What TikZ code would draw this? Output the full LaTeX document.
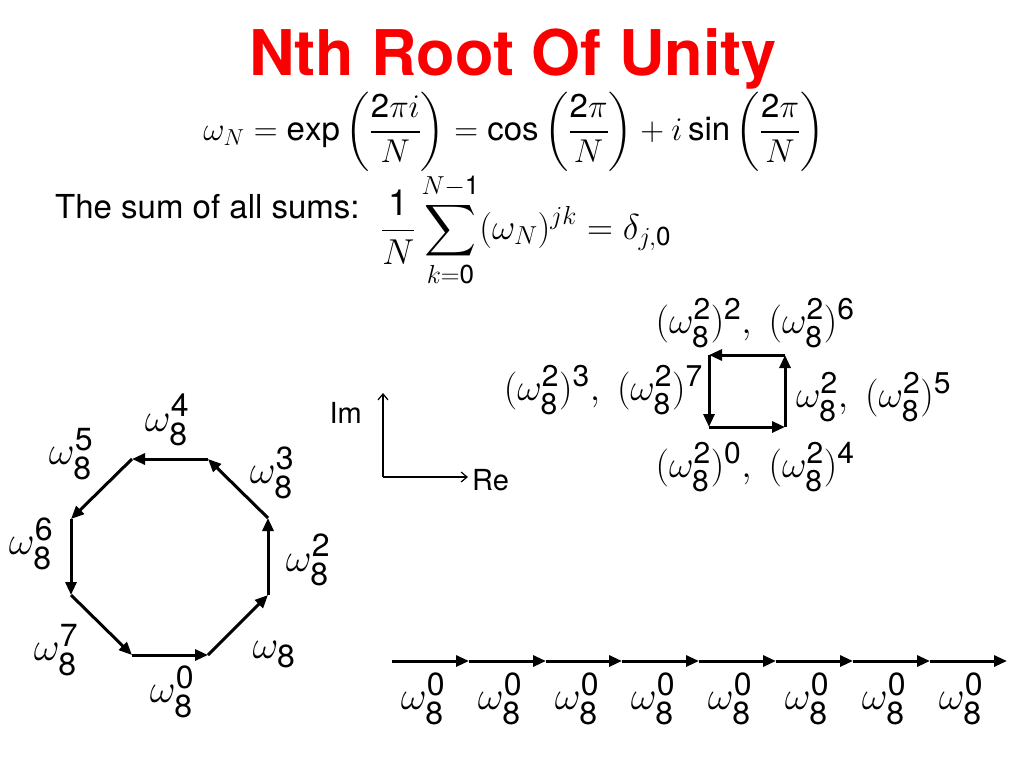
\RequirePackage{fix-cm}
\documentclass[tikz,border=0pt]{standalone}
\usepackage{fontspec}
\setmainfont{TeX Gyre Heros}
\usetikzlibrary{arrows.meta}
% sans digits in math, scalable big operators
\DeclareSymbolFont{sfdig}{TU}{\rmdefault}{m}{n}
\AtBeginDocument{%
	\DeclareMathSymbol{0}{\mathalpha}{sfdig}{`0}%
	\DeclareMathSymbol{1}{\mathalpha}{sfdig}{`1}%
	\DeclareMathSymbol{2}{\mathalpha}{sfdig}{`2}%
	\DeclareMathSymbol{3}{\mathalpha}{sfdig}{`3}%
	\DeclareMathSymbol{4}{\mathalpha}{sfdig}{`4}%
	\DeclareMathSymbol{5}{\mathalpha}{sfdig}{`5}%
	\DeclareMathSymbol{6}{\mathalpha}{sfdig}{`6}%
	\DeclareMathSymbol{7}{\mathalpha}{sfdig}{`7}%
	\DeclareMathSymbol{8}{\mathalpha}{sfdig}{`8}%
	\DeclareMathSymbol{9}{\mathalpha}{sfdig}{`9}%
}
\DeclareFontShape{OMX}{cmex}{m}{n}{<->cmex10}{}
\DeclareMathSizes{40}{40}{32}{24}
\DeclareMathSizes{38}{38}{30}{22}
\DeclareMathSizes{36}{36}{26}{19}
\definecolor{titlered}{RGB}{250,0,0}
\tikzset{
	vec/.style={line width=3pt,-{Triangle[length=13pt,width=11pt]}},
	ax/.style={line width=1.2pt,-{Straight Barb[length=6pt,width=10pt]}},
	lbl/.style={font=\fontsize{40}{46}\selectfont,inner sep=0pt},
	sqlbl/.style={font=\fontsize{38}{44}\selectfont,inner sep=0pt},
	eqn/.style={font=\fontsize{33}{40}\selectfont,inner sep=0pt},
	txt/.style={font=\fontsize{33}{40}\selectfont,inner sep=0pt},
}
\begin{document}
\begin{tikzpicture}[x=1pt,y=-1pt]
	\useasboundingbox (0,0) rectangle (1024,768);
	% title and formulas
	\node[anchor=base,inner sep=0pt,text=titlered,font=\fontsize{63}{70}\selectfont\bfseries] (title) at (513,75) {Nth Root Of Unity};
	\node[eqn] (defn) at (514,132) {$\displaystyle \omega_N=\exp\left(\frac{2\pi i}{N}\right)=\cos\left(\frac{2\pi}{N}\right)+i\sin\left(\frac{2\pi}{N}\right)$};
	\node[txt,anchor=base west] (sumtxt) at (55,218) {The sum of all sums:};
	\node[eqn,font=\fontsize{36}{42}\selectfont,anchor=west] (sumeq) at (381,230) {$\displaystyle \frac{1}{N}\sum_{k=0}^{N-1}(\omega_N)^{jk}=\delta_{j,0}$};
	% octagon
	\coordinate (p0) at (132,655);
	\coordinate (p1) at (208,655);
	\coordinate (p2) at (268,595);
	\coordinate (p3) at (268,518);
	\coordinate (p4) at (208,459);
	\coordinate (p5) at (132,459);
	\coordinate (p6) at (71,519);
	\coordinate (p7) at (71,595);
	\draw [vec] (p0) -- (p1);
	\draw [vec] (p1) -- (p2);
	\draw [vec] (p2) -- (p3);
	\draw [vec] (p3) -- (p4);
	\draw [vec] (p4) -- (p5);
	\draw [vec] (p5) -- (p6);
	\draw [vec] (p6) -- (p7);
	\draw [vec] (p7) -- (p0);
	\node[lbl] (o0) at (172,692) {$\omega_8^0$};
	\node[lbl] (o1) at (274,655) {$\omega_8$};
	\node[lbl] (o2) at (308,560) {$\omega_8^2$};
	\node[lbl] (o3) at (272,473) {$\omega_8^3$};
	\node[lbl] (o4) at (167,420) {$\omega_8^4$};
	\node[lbl] (o5) at (71,454) {$\omega_8^5$};
	\node[lbl] (o6) at (31,544) {$\omega_8^6$};
	\node[lbl] (o7) at (56,650) {$\omega_8^7$};
	% axes
	\coordinate (orig) at (383,477);
	\coordinate (imtip) at (383,393);
	\coordinate (retip) at (468,477);
	\draw [ax] (orig) -- (imtip);
	\draw [ax] (orig) -- (retip);
	\node[font=\fontsize{29}{34}\selectfont,inner sep=0pt,anchor=east] (im) at (362,413) {Im};
	\node[font=\fontsize{29}{34}\selectfont,inner sep=0pt,anchor=west] (re) at (472,480) {Re};
	% square
	\coordinate (q0) at (709,427);
	\coordinate (q1) at (785,427);
	\coordinate (q2) at (785,355);
	\coordinate (q3) at (709,355);
	\draw [vec] (q0) -- (q1);
	\draw [vec] (q1) -- (q2);
	\draw [vec] (q2) -- (q3);
	\draw [vec] (q3) -- (q0);
	\node[sqlbl] (s2) at (755,323) {$(\omega_8^2)^2,\ (\omega_8^2)^6$};
	\node[sqlbl,anchor=east] (s3) at (703,390) {$(\omega_8^2)^3,\ (\omega_8^2)^7$};
	\node[sqlbl,anchor=west] (s1) at (796,397) {$\omega_8^2,\ (\omega_8^2)^5$};
	\node[sqlbl] (s0) at (755,467) {$(\omega_8^2)^0,\ (\omega_8^2)^4$};
	% row of ones
	\coordinate (b0) at (392,661);
	\coordinate (b1) at (469,661);
	\coordinate (b2) at (546,661);
	\coordinate (b3) at (622,661);
	\coordinate (b4) at (699,661);
	\coordinate (b5) at (776,661);
	\coordinate (b6) at (853,661);
	\coordinate (b7) at (930,661);
	\coordinate (b8) at (1007,661);
	\draw [vec] (b0) -- (b1);
	\draw [vec] (b1) -- (b2);
	\draw [vec] (b2) -- (b3);
	\draw [vec] (b3) -- (b4);
	\draw [vec] (b4) -- (b5);
	\draw [vec] (b5) -- (b6);
	\draw [vec] (b6) -- (b7);
	\draw [vec] (b7) -- (b8);
	\node[lbl] (r0) at (423,699) {$\omega_8^0$};
	\node[lbl] (r1) at (500,699) {$\omega_8^0$};
	\node[lbl] (r2) at (577,699) {$\omega_8^0$};
	\node[lbl] (r3) at (653,699) {$\omega_8^0$};
	\node[lbl] (r4) at (730,699) {$\omega_8^0$};
	\node[lbl] (r5) at (807,699) {$\omega_8^0$};
	\node[lbl] (r6) at (884,699) {$\omega_8^0$};
	\node[lbl] (r7) at (961,699) {$\omega_8^0$};
\end{tikzpicture}
\end{document}
